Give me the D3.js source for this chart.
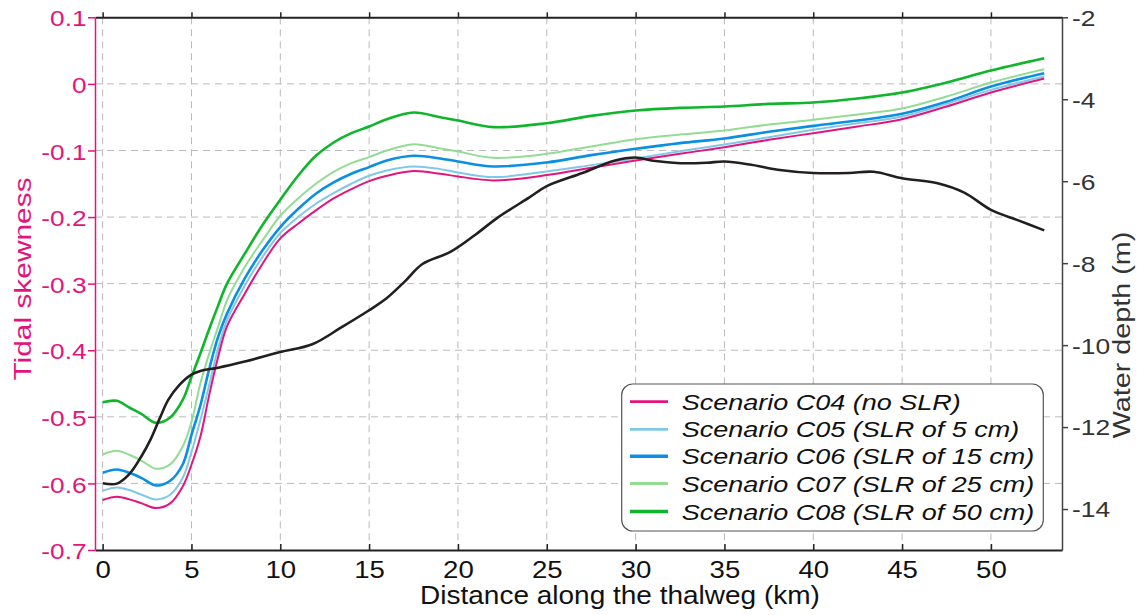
<!DOCTYPE html>
<html>
<head>
<meta charset="utf-8">
<script src="https://cdn.jsdelivr.net/npm/d3@7/dist/d3.min.js"></script>
<style>
  html, body { margin: 0; padding: 0; background: #fff; }
  svg { display: block; font-family: "Liberation Sans", Arial, sans-serif; }
</style>
</head>
<body>
<svg id="chart" width="1137" height="615"></svg>
<script>
// ---------------- DATA ----------------
const distance = [0, 0.8, 1.5, 2.2, 3, 3.8, 4.5, 5, 5.5, 6, 6.5, 7, 8, 9, 10, 11, 12, 13, 14, 15, 16, 17.5, 19, 20, 22, 25, 27.5, 30, 32.5, 35, 37.5, 40, 42.5, 45, 47.5, 50, 53];

const skewC04 = [-0.625, -0.620, -0.624, -0.630, -0.637, -0.630, -0.605, -0.572, -0.530, -0.467, -0.410, -0.364, -0.315, -0.270, -0.232, -0.210, -0.190, -0.172, -0.158, -0.146, -0.138, -0.131, -0.135, -0.139, -0.145, -0.137, -0.126, -0.115, -0.105, -0.095, -0.084, -0.074, -0.064, -0.053, -0.034, -0.013, 0.008];
const skewC05 = [-0.611, -0.606, -0.610, -0.617, -0.624, -0.617, -0.592, -0.553, -0.505, -0.452, -0.397, -0.355, -0.303, -0.260, -0.224, -0.200, -0.180, -0.164, -0.150, -0.138, -0.130, -0.124, -0.128, -0.133, -0.140, -0.1315, -0.122, -0.112, -0.101, -0.091, -0.080, -0.069, -0.059, -0.049, -0.030, -0.009, 0.011];
const skewC06 = [-0.584, -0.579, -0.584, -0.592, -0.603, -0.596, -0.572, -0.527, -0.483, -0.428, -0.380, -0.345, -0.292, -0.250, -0.215, -0.188, -0.165, -0.148, -0.135, -0.125, -0.115, -0.108, -0.112, -0.1165, -0.124, -0.118, -0.107, -0.0975, -0.089, -0.082, -0.072, -0.063, -0.055, -0.045, -0.027, -0.004, 0.016];
const skewC07 = [-0.5565, -0.551, -0.557, -0.566, -0.578, -0.5715, -0.545, -0.508, -0.450, -0.405, -0.365, -0.325, -0.275, -0.235, -0.198, -0.172, -0.150, -0.132, -0.119, -0.110, -0.100, -0.0905, -0.097, -0.1015, -0.111, -0.105, -0.094, -0.083, -0.076, -0.070, -0.061, -0.054, -0.046, -0.037, -0.019, 0.002, 0.022];
const skewC08 = [-0.478, -0.476, -0.486, -0.496, -0.509, -0.501, -0.475, -0.440, -0.405, -0.368, -0.333, -0.300, -0.255, -0.212, -0.174, -0.138, -0.108, -0.088, -0.074, -0.064, -0.053, -0.043, -0.050, -0.055, -0.065, -0.059, -0.048, -0.040, -0.036, -0.034, -0.030, -0.028, -0.022, -0.013, 0.002, 0.020, 0.0385];

const depthDistance = [0, 0.8, 1.5, 2.2, 2.7, 3.2, 3.7, 4.3, 5, 5.5, 6.5, 8, 10, 11.8, 13.5, 15, 16, 17, 18, 19.6, 21, 22.2, 24, 25, 27, 28.8, 30, 31, 32.5, 34, 35, 36.5, 38, 40, 42, 43.4, 45, 47, 48.5, 50, 51.5, 53];
const waterDepth = [-13.37, -13.38, -13.15, -12.7, -12.3, -11.8, -11.33, -10.98, -10.72, -10.63, -10.55, -10.4, -10.17, -9.98, -9.55, -9.15, -8.85, -8.45, -8.02, -7.72, -7.3, -6.9, -6.4, -6.12, -5.8, -5.5, -5.42, -5.5, -5.56, -5.55, -5.52, -5.6, -5.72, -5.8, -5.8, -5.77, -5.93, -6.05, -6.28, -6.7, -6.95, -7.2];

const seriesNames = ["Scenario C04 (no SLR)", "Scenario C05 (SLR of 5 cm)", "Scenario C06 (SLR of 15 cm)", "Scenario C07 (SLR of 25 cm)", "Scenario C08 (SLR of 50 cm)"];

const xTicks = [0, 5, 10, 15, 20, 25, 30, 35, 40, 45, 50];
const xTickLabels = ["0", "5", "10", "15", "20", "25", "30", "35", "40", "45", "50"];
const leftTicks = [0.1, 0, -0.1, -0.2, -0.3, -0.4, -0.5, -0.6, -0.7];
const leftTickLabels = ["0.1", "0", "-0.1", "-0.2", "-0.3", "-0.4", "-0.5", "-0.6", "-0.7"];
const rightTicks = [-2, -4, -6, -8, -10, -12, -14];
const rightTickLabels = ["-2", "-4", "-6", "-8", "-10", "-12", "-14"];

// ---------------- STYLE ----------------
const seriesColors = ["#e4147c", "#80c8e8", "#0a8fe2", "#94dc94", "#0fb52a"];
const seriesWidths = [2, 2, 2.6, 2, 2.6];
const magenta = "#e4147c";
const dark = "#222";

const svg = d3.select("#chart");
const L = 95, R = 1062, T = 17.3, B = 550;

const x = d3.scaleLinear().domain([-0.43, 54.0]).range([L, R]);
const yL = d3.scaleLinear().domain([-0.7, 0.1]).range([B, T]);
const yR = d3.scaleLinear().domain([-15, -2]).range([B, T]);

// grid
const grid = svg.append("g").attr("stroke", "#bbbbbb").attr("stroke-width", 1).attr("stroke-dasharray", "7,5");
grid.selectAll("line.v").data(xTicks).join("line")
  .attr("x1", d => x(d)).attr("x2", d => x(d)).attr("y1", T).attr("y2", B);
grid.selectAll("line.h").data(leftTicks.filter(d => d > -0.7 && d < 0.1)).join("line")
  .attr("x1", L).attr("x2", R).attr("y1", d => yL(d)).attr("y2", d => yL(d));

// lines
const skewSeries = [skewC04, skewC05, skewC06, skewC07, skewC08];
const lineSkew = d3.line().x((d, i) => x(distance[i])).y(d => yL(d)).curve(d3.curveCatmullRom.alpha(0.5));
const drawOrder = [4, 3, 2, 1, 0];
drawOrder.forEach(k => {
  svg.append("path").datum(skewSeries[k])
    .attr("fill", "none").attr("stroke", seriesColors[k]).attr("stroke-width", seriesWidths[k])
    .attr("stroke-linejoin", "round").attr("d", lineSkew);
});
const lineDepth = d3.line().x((d, i) => x(depthDistance[i])).y(d => yR(d)).curve(d3.curveCatmullRom.alpha(0.5));
svg.append("path").datum(waterDepth)
  .attr("fill", "none").attr("stroke", "#231f1f").attr("stroke-width", 2.6)
  .attr("stroke-linejoin", "round").attr("d", lineDepth);

// axes
const sxTick = 1.2;
const axB = svg.append("g").attr("transform", `translate(0,${B})`)
  .call(d3.axisBottom(x).tickValues(xTicks).tickFormat((d, i) => xTickLabels[i]).tickSizeInner(-6).tickSizeOuter(0).tickPadding(12));
axB.select(".domain").attr("stroke", dark).attr("stroke-width", 2);
axB.selectAll(".tick line").attr("stroke", dark).attr("stroke-width", 1.5);
axB.selectAll(".tick text").attr("font-size", 23).attr("fill", "#111")
  .attr("font-family", "Liberation Sans, Arial, sans-serif")
  .attr("transform", `scale(${sxTick},1)`);

const axT = svg.append("g").attr("transform", `translate(0,${T})`)
  .call(d3.axisTop(x).tickValues(xTicks).tickFormat("").tickSizeInner(5).tickSizeOuter(0));
axT.select(".domain").attr("stroke", dark).attr("stroke-width", 2);
axT.selectAll(".tick line").attr("stroke", dark).attr("stroke-width", 1.5);

const axL = svg.append("g").attr("transform", `translate(${L},0)`)
  .call(d3.axisLeft(yL).tickValues(leftTicks).tickFormat((d, i) => leftTickLabels[i]).tickSizeInner(7).tickSizeOuter(0).tickPadding(1));
axL.select(".domain").attr("stroke", magenta).attr("stroke-width", 1.5);
axL.selectAll(".tick line").attr("stroke", magenta).attr("stroke-width", 1.5);
axL.selectAll(".tick text").attr("font-size", 21.5).attr("fill", magenta)
  .attr("font-family", "Liberation Sans, Arial, sans-serif")
  .attr("x", -8.5 / 1.22).attr("dy", "0.4em")
  .attr("transform", "scale(1.22,1)");

const axR = svg.append("g").attr("transform", `translate(${R},0)`)
  .call(d3.axisRight(yR).tickValues(rightTicks).tickFormat((d, i) => rightTickLabels[i]).tickSizeInner(6).tickSizeOuter(0).tickPadding(4));
axR.select(".domain").attr("stroke", "#444").attr("stroke-width", 1.5);
axR.selectAll(".tick line").attr("stroke", "#444").attr("stroke-width", 1.5);
axR.selectAll(".tick text").attr("font-size", 22).attr("fill", "#333")
  .attr("font-family", "Liberation Sans, Arial, sans-serif")
  .attr("x", 10 / 1.2).attr("dy", "0.36em")
  .attr("transform", "scale(1.2,1)");

// axis titles
function stretched(x0, y0, rot, sx, txt, size, color, anchor) {
  return svg.append("text")
    .attr("transform", `translate(${x0},${y0}) rotate(${rot}) scale(${sx},1)`)
    .attr("text-anchor", anchor).attr("font-size", size).attr("fill", color)
    .text(txt);
}
stretched(620, 604, 0, 1.12, "Distance along the thalweg (km)", 25, "#111", "middle");
stretched(31, 279, -90, 1.3, "Tidal skewness", 23, magenta, "middle");
stretched(1130, 335, -90, 1.25, "Water depth (m)", 23, "#333", "middle");

// legend
const lg = svg.append("g");
lg.append("rect").attr("x", 621.7).attr("y", 384).attr("width", 1043.3 - 621.7).attr("height", 531 - 384)
  .attr("rx", 11).attr("ry", 11).attr("fill", "#fff").attr("stroke", "#555").attr("stroke-width", 1.2);
const rowY = [401.7, 429.3, 456.3, 483.5, 511.5];
seriesNames.forEach((name, i) => {
  lg.append("line").attr("x1", 630).attr("x2", 668).attr("y1", rowY[i]).attr("y2", rowY[i])
    .attr("stroke", seriesColors[i]).attr("stroke-width", seriesWidths[i] + 0.8);
  lg.append("text")
    .attr("transform", `translate(681.7,${rowY[i] + 8}) scale(1.2,1)`)
    .attr("font-size", 22.5).attr("font-style", "italic").attr("fill", "#111")
    .text(name);
});
</script>
</body>
</html>
